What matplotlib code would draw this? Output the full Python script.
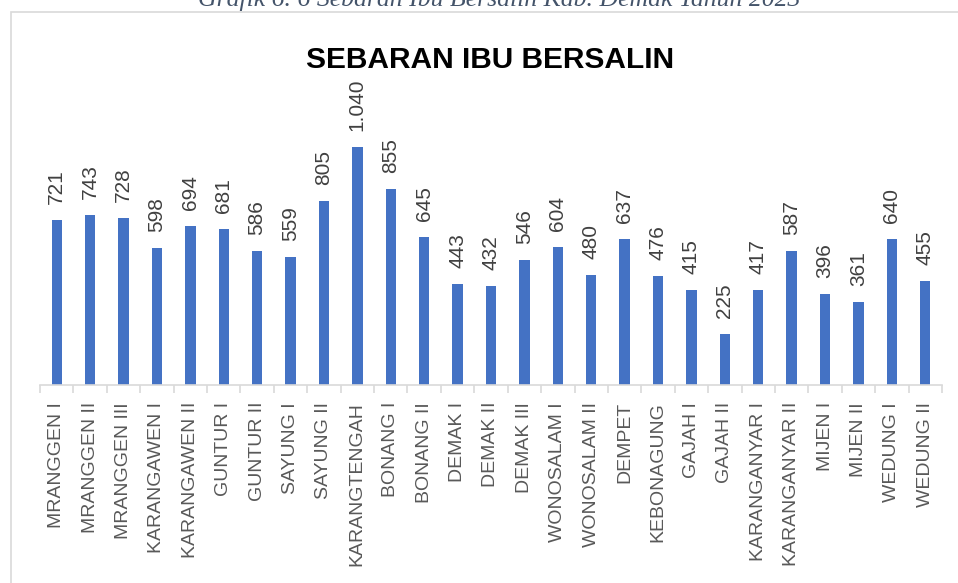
import matplotlib
matplotlib.use("Agg")
import matplotlib.pyplot as plt
from matplotlib.patches import Rectangle

categories = ["MRANGGEN I", "MRANGGEN II", "MRANGGEN III", "KARANGAWEN I", "KARANGAWEN II",
              "GUNTUR I", "GUNTUR II", "SAYUNG I", "SAYUNG II", "KARANGTENGAH",
              "BONANG I", "BONANG II", "DEMAK I", "DEMAK II", "DEMAK III",
              "WONOSALAM I", "WONOSALAM II", "DEMPET", "KEBONAGUNG", "GAJAH I",
              "GAJAH II", "KARANGANYAR I", "KARANGANYAR II", "MIJEN I", "MIJEN II",
              "WEDUNG I", "WEDUNG II"]
values = [721, 743, 728, 598, 694, 681, 586, 559, 805, 1040,
          855, 645, 443, 432, 546, 604, 480, 637, 476, 415,
          225, 417, 587, 396, 361, 640, 455]
value_labels = [f"{v:,}".replace(",", ".") for v in values]
title = "SEBARAN IBU BERSALIN"
caption = "Grafik 6. 6 Sebaran Ibu Bersalin Kab. Demak Tahun 2023"

W, H = 958, 583
fig = plt.figure(figsize=(W / 100, H / 100), dpi=100)

def fx(x):
    return x / W

def fy(y):
    return 1 - y / H

# chart border
fig.patches.append(Rectangle((fx(11), fy(600)), fx(1000), fy(12) - fy(600),
                             transform=fig.transFigure, fill=False,
                             edgecolor="#D9D9D9", linewidth=1.2))

ymax = 1200
ax_left, ax_right, ax_bottom = 40, 942, 385
ax_top = ax_bottom - ymax * 238 / 1040
ax = fig.add_axes([fx(ax_left), fy(ax_bottom), fx(ax_right - ax_left), fy(ax_top) - fy(ax_bottom)])

x = list(range(len(categories)))
ax.bar(x, values, width=0.31, color="#4472C4", zorder=2)
ax.set_xlim(-0.5, len(categories) - 0.5)
ax.set_ylim(0, ymax)

for xi, v, lab in zip(x, values, value_labels):
    ax.annotate(lab, (xi, v), xytext=(0, 11.5), textcoords="offset points",
                rotation=90, ha="center", va="bottom", fontsize=15,
                color="#404040", family="Liberation Sans")

for s in ["top", "right", "left"]:
    ax.spines[s].set_visible(False)
ax.spines["bottom"].set_color("#D9D9D9")
ax.spines["bottom"].set_linewidth(1.2)
ax.set_yticks([])
ax.set_xticks(x)
ax.set_xticklabels(categories, rotation=90, fontsize=14, color="#595959",
                   family="Liberation Sans", va="top", ha="center")
ax.tick_params(axis="x", which="major", length=0, pad=12.2)
ax.set_xticks([i - 0.5 for i in range(len(categories) + 1)], minor=True)
ax.tick_params(axis="x", which="minor", length=5.8, color="#D9D9D9", width=1.2)

fig.text(fx(490), fy(68), title, ha="center", va="baseline", fontsize=21.5,
         fontweight="bold", color="#000000", family="Liberation Sans")

fig.text(fx(499), fy(6), caption, ha="center", va="baseline", fontsize=18.5,
         style="italic", color="#44546A", family="Liberation Serif")

fig.savefig("out.png", dpi=100)
